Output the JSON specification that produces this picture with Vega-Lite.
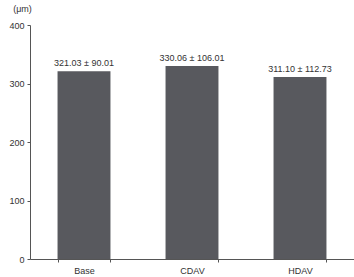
{
  "$schema": "https://vega.github.io/schema/vega-lite/v6.json",
  "autosize": "none",
  "width": 324,
  "height": 234,
  "padding": {"left": 30, "top": 25, "right": 0, "bottom": 18},
  "background": "white",
  "data": {"values": [
    {"group": "Base", "value": 321.03, "label": "321.03 ± 90.01"},
    {"group": "CDAV", "value": 330.06, "label": "330.06 ± 106.01"},
    {"group": "HDAV", "value": 311.10, "label": "311.10 ± 112.73"}
  ]},
  "config": {
    "view": {"stroke": null},
    "font": "Liberation Sans",
    "axis": {"domainColor": "#555", "tickColor": "#555", "labelColor": "#333", "labelFontSize": 9, "grid": false, "tickSize": 3}
  },
  "encoding": {
    "x": {"field": "group", "type": "nominal", "sort": null,
      "scale": {"paddingInner": 0.51, "paddingOuter": 0.255},
      "axis": {"title": null, "labelAngle": 0, "tickBand": "extent", "labelPadding": 4}},
    "y": {"field": "value", "type": "quantitative",
      "scale": {"domain": [0, 400]},
      "axis": {"values": [0, 100, 200, 300, 400], "title": "(μm)", "titleAngle": 0, "titleX": -8, "titleY": -17, "titleAlign": "center", "titleBaseline": "middle", "titleFontWeight": "normal", "titleFontSize": 9, "titleColor": "#333", "labelPadding": 3}}
  },
  "layer": [
    {"mark": {"type": "bar", "color": "#58595e"}},
    {"mark": {"type": "text", "dy": -8, "fontSize": 9, "color": "#333"},
     "encoding": {"text": {"field": "label"}}}
  ]
}
